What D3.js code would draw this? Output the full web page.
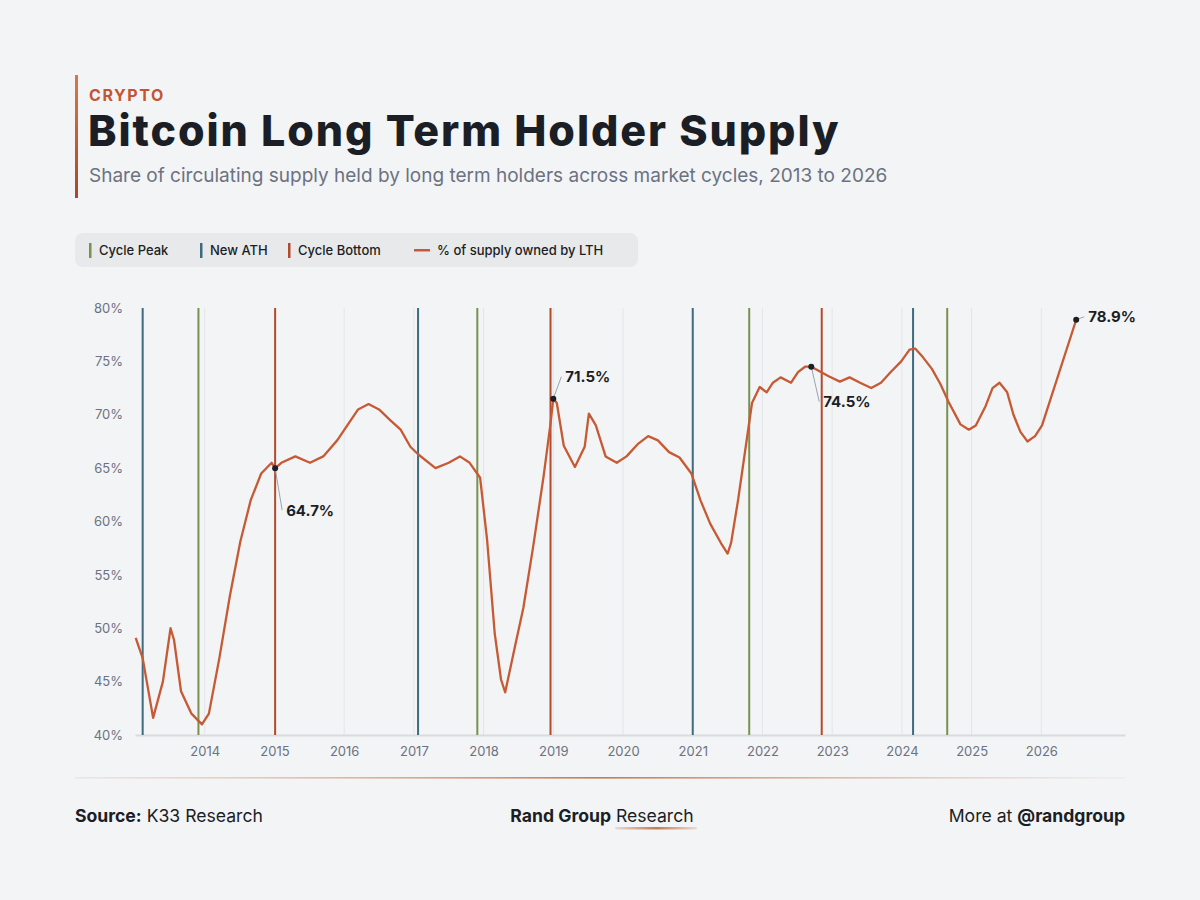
<!DOCTYPE html>
<html>
<head>
<meta charset="utf-8">
<script src="https://cdn.jsdelivr.net/npm/d3@7"></script>
<style>
  html, body { margin: 0; padding: 0; background: #f3f4f6; }
  svg { display: block; font-family: Inter, "Noto Sans", sans-serif; }
</style>
</head>
<body>
<svg id="chart" width="1200" height="900"></svg>
<script>
// decimal year of each sample
const dates = [
  2013.01, 2013.11, 2013.26, 2013.40, 2013.51, 2013.56, 2013.66, 2013.81, 2013.96, 2014.06,
  2014.21, 2014.36, 2014.51, 2014.66, 2014.81, 2014.96, 2015.01, 2015.10, 2015.30, 2015.51,
  2015.70, 2015.90, 2016.20, 2016.35, 2016.50, 2016.66, 2016.81, 2016.95, 2017.06, 2017.31,
  2017.50, 2017.66, 2017.80, 2017.95, 2018.05, 2018.16, 2018.25, 2018.31, 2018.46, 2018.57,
  2018.71, 2018.86, 2018.96, 2019.00, 2019.05, 2019.15, 2019.31, 2019.45, 2019.51, 2019.61,
  2019.75, 2019.91, 2020.05, 2020.22, 2020.36, 2020.50, 2020.66, 2020.81, 2020.98, 2021.11,
  2021.25, 2021.42, 2021.50, 2021.55, 2021.65, 2021.76, 2021.85, 2021.96, 2022.06, 2022.15,
  2022.26, 2022.41, 2022.51, 2022.61, 2022.70, 2022.95, 2023.11, 2023.25, 2023.40, 2023.56,
  2023.70, 2023.84, 2023.99, 2024.11, 2024.19, 2024.30, 2024.43, 2024.55, 2024.67, 2024.84,
  2024.96, 2025.06, 2025.20, 2025.30, 2025.40, 2025.51, 2025.60, 2025.70, 2025.80, 2025.91,
  2026.01, 2026.50
];
// % of supply owned by long term holders
const lthShare = [
  49.1, 47.2, 41.6, 45.0, 50.0, 48.9, 44.1, 42.0, 41.0, 42.0,
  47.2, 53.0, 58.1, 62.0, 64.5, 65.5, 65.0, 65.5, 66.1, 65.5,
  66.1, 67.6, 70.5, 71.0, 70.5, 69.5, 68.6, 67.0, 66.3, 65.0,
  65.5, 66.1, 65.5, 64.1, 58.3, 49.5, 45.2, 44.0, 48.6, 51.9,
  57.6, 64.2, 69.2, 71.5, 71.1, 67.1, 65.1, 67.0, 70.1, 69.0,
  66.1, 65.5, 66.1, 67.3, 68.0, 67.6, 66.5, 66.0, 64.5, 62.0,
  59.8, 57.8, 57.0, 58.0, 62.0, 67.0, 71.1, 72.6, 72.1, 73.0,
  73.5, 73.0, 74.0, 74.5, 74.5, 73.6, 73.1, 73.5, 73.0, 72.5,
  73.0, 74.0, 75.0, 76.1, 76.2, 75.4, 74.3, 72.9, 71.2, 69.1,
  68.6, 69.0, 70.8, 72.5, 73.0, 72.1, 70.0, 68.4, 67.5, 68.0,
  69.0, 78.9
];

const cyclePeaks = [2013.91, 2017.91, 2021.81, 2024.65];
const newATHs = [2013.11, 2017.06, 2021.00, 2024.16];
const cycleBottoms = [2015.01, 2018.96, 2022.85];

const yearTicks = [2014, 2015, 2016, 2017, 2018, 2019, 2020, 2021, 2022, 2023, 2024, 2025, 2026];
const pctTicks = [40, 45, 50, 55, 60, 65, 70, 75, 80];

// callouts: where the dot sits and the text shown
const calloutDates = [2015.01, 2019.00, 2022.70, 2026.50];
const calloutValues = [65.0, 71.5, 74.5, 78.9];
const calloutLabels = ["64.7%", "71.5%", "74.5%", "78.9%"];

const COL = {
  ink: "#1b1e24",
  muted: "#6b7280",
  accent: "#c4552f",
  line: "#c65a35",
  peak: "#7b8f4f",
  ath: "#3e6b80",
  bottom: "#b24a2c",
  grid: "#e3e5e8"
};

const svg = d3.select("#chart");
const plot = { left: 135, right: 1125, top: 308, bottom: 735 };

const x = d3.scaleLinear().domain([2013, 2027.2]).range([plot.left, plot.right]);
const y = d3.scaleLinear().domain([40, 80]).range([plot.bottom, plot.top]);

const defs = svg.append("defs");

// --- header ---
const barGrad = defs.append("linearGradient").attr("id", "barGrad")
  .attr("x1", 0).attr("y1", 0).attr("x2", 0).attr("y2", 1);
barGrad.append("stop").attr("offset", "0%").attr("stop-color", "#d27a4c");
barGrad.append("stop").attr("offset", "100%").attr("stop-color", "#a9472a");

svg.append("rect")
  .attr("x", 75).attr("y", 75).attr("width", 3).attr("height", 123)
  .attr("fill", "url(#barGrad)");

svg.append("text")
  .attr("x", 89).attr("y", 101)
  .attr("fill", COL.accent)
  .style("font-size", "16px").style("font-weight", 700).style("letter-spacing", "1.6px")
  .text("CRYPTO");

svg.append("text")
  .attr("x", 88).attr("y", 146)
  .attr("fill", COL.ink)
  .style("font-size", "43px").style("font-weight", 800).style("letter-spacing", "1.9px")
  .text("Bitcoin Long Term Holder Supply");

svg.append("text")
  .attr("x", 89).attr("y", 182)
  .attr("fill", COL.muted)
  .style("font-size", "19px")
  .text("Share of circulating supply held by long term holders across market cycles, 2013 to 2026");

// --- legend ---
svg.append("rect")
  .attr("x", 75).attr("y", 233).attr("width", 563).attr("height", 34).attr("rx", 8)
  .attr("fill", "#e8e9eb");

const legendItems = [
  { label: "Cycle Peak", color: COL.peak, kind: "bar", x: 90 },
  { label: "New ATH", color: COL.ath, kind: "bar", x: 201 },
  { label: "Cycle Bottom", color: COL.bottom, kind: "bar", x: 289 },
  { label: "% of supply owned by LTH", color: COL.line, kind: "dash", x: 414 }
];
const lg = svg.append("g").selectAll("g").data(legendItems).enter().append("g");
lg.filter(d => d.kind === "bar").append("rect")
  .attr("x", d => d.x - 1).attr("y", 243).attr("width", 2.5).attr("height", 15)
  .attr("fill", d => d.color);
lg.filter(d => d.kind === "dash").append("rect")
  .attr("x", d => d.x).attr("y", 249).attr("width", 16).attr("height", 2.5)
  .attr("fill", d => d.color);
lg.append("text")
  .attr("x", d => d.kind === "bar" ? d.x + 9 : d.x + 23)
  .attr("y", 255)
  .attr("fill", COL.ink)
  .style("font-size", "13px").style("font-weight", 500)
  .text(d => d.label);

// --- axes & grid ---
svg.append("g")
  .selectAll("line")
  .data(yearTicks)
  .enter().append("line")
  .attr("x1", d => x(d)).attr("x2", d => x(d))
  .attr("y1", plot.top).attr("y2", plot.bottom)
  .attr("stroke", COL.grid).attr("stroke-width", 1);

const xAxis = d3.axisBottom(x).tickValues(yearTicks).tickFormat(d3.format("d")).tickSize(0).tickPadding(12);
const gx = svg.append("g").attr("transform", "translate(0," + plot.bottom + ")").call(xAxis);
gx.select(".domain").attr("stroke", "#d8dbdf").attr("stroke-width", 2);
gx.selectAll("text").attr("fill", COL.muted).style("font-size", "13px").style("font-family", "Inter, sans-serif");

const yAxis = d3.axisLeft(y).tickValues(pctTicks).tickFormat(d => d + "%").tickSize(0).tickPadding(12);
const gy = svg.append("g").attr("transform", "translate(" + plot.left + ",0)").call(yAxis);
gy.select(".domain").remove();
gy.selectAll("text").attr("fill", COL.muted).style("font-size", "13px").style("font-family", "Inter, sans-serif");

// --- event lines ---
function eventLines(data, color) {
  svg.append("g").selectAll("line")
    .data(data)
    .enter().append("line")
    .attr("x1", d => x(d)).attr("x2", d => x(d))
    .attr("y1", plot.top).attr("y2", plot.bottom)
    .attr("stroke", color).attr("stroke-width", 2);
}
eventLines(newATHs, COL.ath);
eventLines(cyclePeaks, COL.peak);
eventLines(cycleBottoms, COL.bottom);

// --- LTH line ---
const series = dates.map((d, i) => ({ x: d, y: lthShare[i] }));
const lineGen = d3.line().x(d => x(d.x)).y(d => y(d.y));
svg.append("path")
  .datum(series)
  .attr("fill", "none")
  .attr("stroke", COL.line)
  .attr("stroke-width", 2.3)
  .attr("stroke-linejoin", "round")
  .attr("d", lineGen);

// --- callouts ---
const offsets = [[7, 42], [8, -22], [8, 35], [8, -3]];
const callouts = calloutDates.map((d, i) => ({ x: d, y: calloutValues[i], label: calloutLabels[i], off: offsets[i] }));
const cg = svg.append("g").selectAll("g").data(callouts).enter().append("g");
cg.append("line")
  .attr("x1", d => x(d.x)).attr("y1", d => y(d.y))
  .attr("x2", d => x(d.x) + d.off[0]).attr("y2", d => y(d.y) + d.off[1])
  .attr("stroke", "#9ca3af").attr("stroke-width", 1);
cg.append("circle")
  .attr("cx", d => x(d.x)).attr("cy", d => y(d.y)).attr("r", 3)
  .attr("fill", COL.ink);
cg.append("text")
  .attr("x", d => x(d.x) + d.off[0] + 4)
  .attr("y", d => y(d.y) + d.off[1])
  .attr("dy", "0.36em")
  .attr("fill", COL.ink)
  .style("font-size", "15px").style("font-weight", 700)
  .text(d => d.label);

// --- footer ---
const footGrad = defs.append("linearGradient").attr("id", "footGrad");
footGrad.append("stop").attr("offset", "0%").attr("stop-color", "#d9a98f").attr("stop-opacity", 0.2);
footGrad.append("stop").attr("offset", "50%").attr("stop-color", "#c8794f");
footGrad.append("stop").attr("offset", "100%").attr("stop-color", "#d9a98f").attr("stop-opacity", 0.1);
svg.append("rect")
  .attr("x", 75).attr("y", 777).attr("width", 1050).attr("height", 1.6)
  .attr("fill", "url(#footGrad)");

const src = svg.append("text").attr("x", 75).attr("y", 822)
  .attr("fill", COL.ink).style("font-size", "17.6px");
src.append("tspan").style("font-weight", 700).text("Source:");
src.append("tspan").text(" K33 Research");

const brand = svg.append("text").attr("x", 602).attr("y", 822).attr("text-anchor", "middle")
  .attr("fill", COL.ink).style("font-size", "17.6px");
brand.append("tspan").style("font-weight", 700).text("Rand Group");
brand.append("tspan").text(" Research");

const ulGrad = defs.append("linearGradient").attr("id", "ulGrad");
ulGrad.append("stop").attr("offset", "0%").attr("stop-color", "#c8794f").attr("stop-opacity", 0.2);
ulGrad.append("stop").attr("offset", "50%").attr("stop-color", "#c8794f");
ulGrad.append("stop").attr("offset", "100%").attr("stop-color", "#c8794f").attr("stop-opacity", 0.2);
svg.append("rect")
  .attr("x", 615).attr("y", 827).attr("width", 82).attr("height", 2.5).attr("rx", 1.2)
  .attr("fill", "url(#ulGrad)");

const more = svg.append("text").attr("x", 1125).attr("y", 822).attr("text-anchor", "end")
  .attr("fill", COL.ink).style("font-size", "17.6px");
more.append("tspan").text("More at ");
more.append("tspan").style("font-weight", 700).text(" @randgroup");
</script>
</body>
</html>
